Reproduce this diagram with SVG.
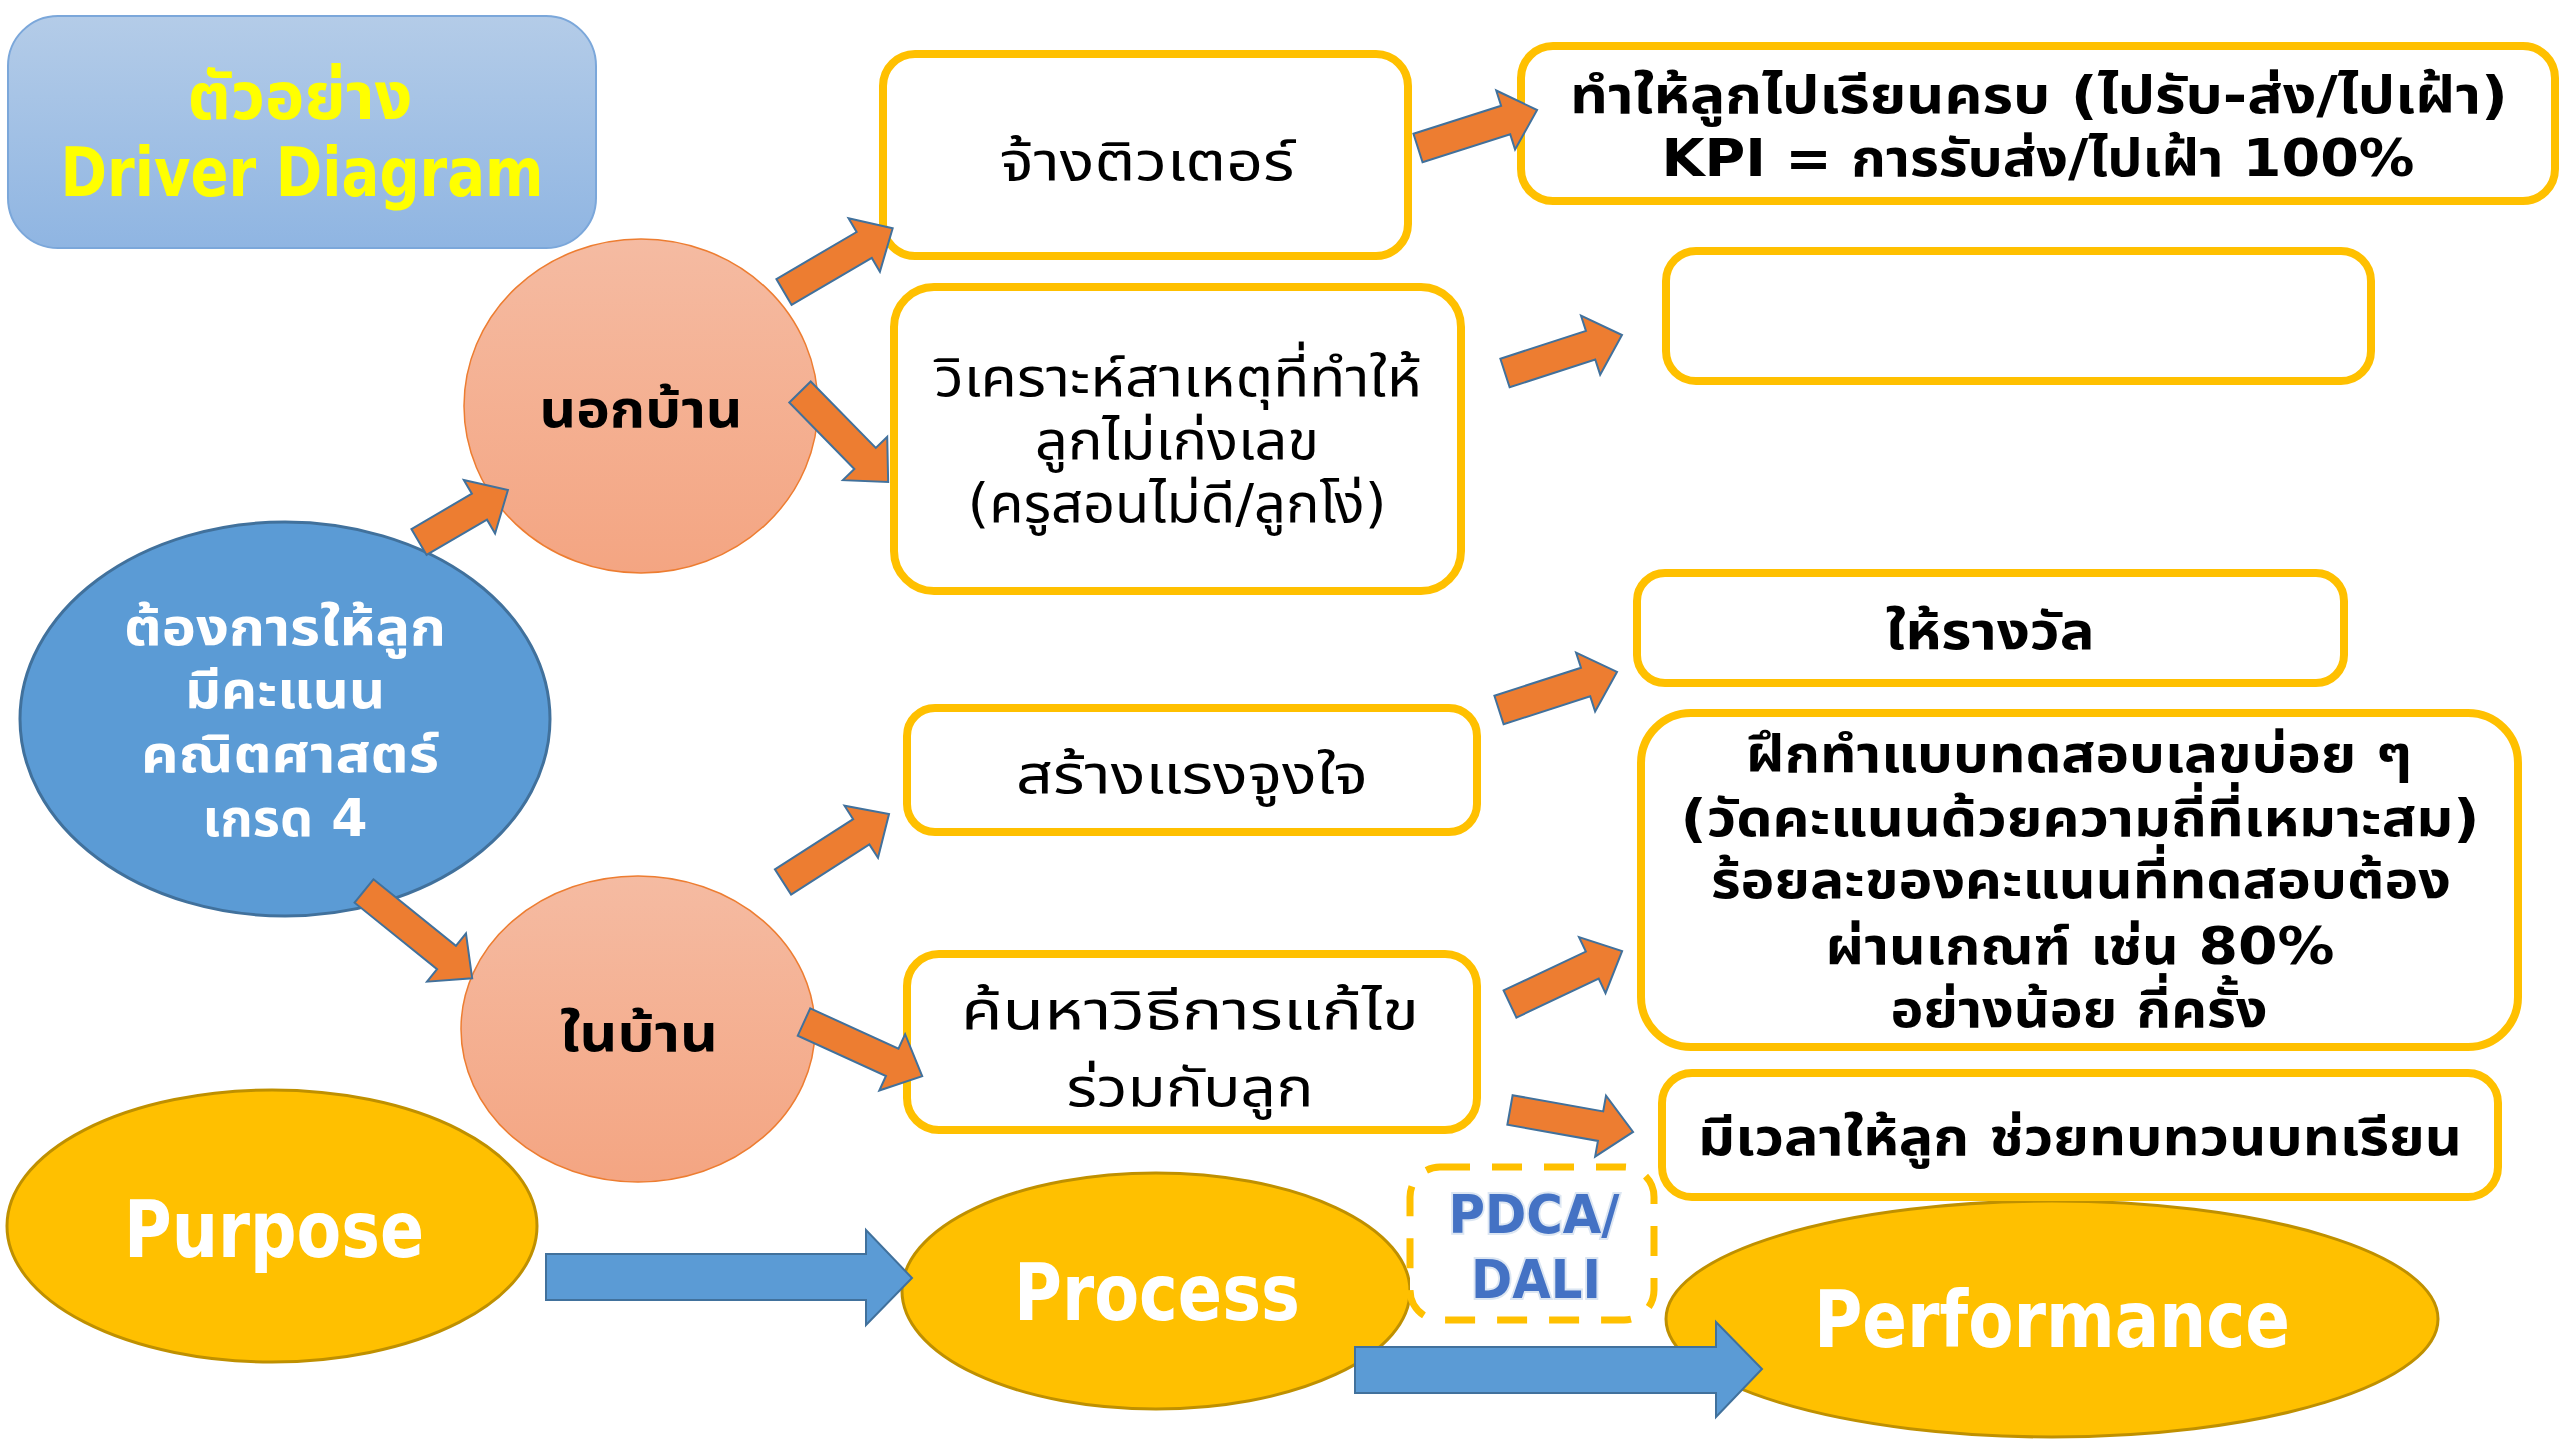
<svg xmlns="http://www.w3.org/2000/svg" width="2560" height="1440" viewBox="0 0 2560 1440">
<defs>
<linearGradient id="gTitle" x1="0" y1="0" x2="0" y2="1"><stop offset="0" stop-color="#b4cce8"/><stop offset="1" stop-color="#8fb5e2"/></linearGradient>
<linearGradient id="gSalmon" x1="0" y1="0" x2="0" y2="1"><stop offset="0" stop-color="#f5bba2"/><stop offset="1" stop-color="#f4a582"/></linearGradient>
<style>
.box{fill:#fff;stroke:#ffc000;stroke-width:8}
.dash{fill:#fff;stroke:#ffc000;stroke-width:7;stroke-dasharray:30 22}
.sal{fill:url(#gSalmon);stroke:#ed7d31;stroke-width:1.5}
.yel{fill:#ffc000;stroke:#bf9000;stroke-width:3}
.oa{fill:#ed7d31;stroke:#41719c;stroke-width:2}
.ba{fill:#5b9bd5;stroke:#41719c;stroke-width:2}
text{font-family:Tahoma,'DejaVu Sans','Noto Sans Thai','Noto Sans',sans-serif;text-anchor:middle}
.b{font-weight:bold}
.t{font-size:54px;fill:#000}
.tb{font-size:52px;font-weight:bold;fill:#000}
.w{fill:#fff;font-weight:bold}
.pd{fill:#4472c4;font-weight:bold;font-size:54px;stroke:#dce6f2;stroke-width:4;paint-order:stroke}
</style>
</defs>
<g id="title">
<rect x="8" y="16" width="588" height="232" rx="50" fill="url(#gTitle)" stroke="#7ba7da" stroke-width="2"/>
<text x="300" y="119" class="b" font-size="66" fill="#ffff00" textLength="225" lengthAdjust="spacingAndGlyphs">ตัวอย่าง</text>
<text x="302" y="196" class="b" font-size="68" fill="#ffff00" textLength="483" lengthAdjust="spacingAndGlyphs">Driver Diagram</text>
</g>
<g id="goal">
<ellipse cx="285" cy="719" rx="265" ry="197" fill="#5b9bd5" stroke="#41719c" stroke-width="3"/>
<text x="285" y="645" class="w" font-size="52" textLength="322" lengthAdjust="spacingAndGlyphs">ต้องการให้ลูก</text>
<text x="285" y="708" class="w" font-size="52" textLength="200" lengthAdjust="spacingAndGlyphs">มีคะแนน</text>
<text x="290" y="772" class="w" font-size="52" textLength="298" lengthAdjust="spacingAndGlyphs">คณิตศาสตร์</text>
<text x="285" y="836" class="w" font-size="52" textLength="165" lengthAdjust="spacingAndGlyphs">เกรด 4</text>
</g>
<g id="outside">
<ellipse cx="641" cy="406" rx="177" ry="167" class="sal"/>
<text x="641" y="427" class="tb" textLength="203" lengthAdjust="spacingAndGlyphs">นอกบ้าน</text>
</g>
<g id="inside">
<ellipse cx="638" cy="1029" rx="177" ry="153" class="sal"/>
<text x="639" y="1051" class="tb" textLength="158" lengthAdjust="spacingAndGlyphs">ในบ้าน</text>
</g>
<g id="purpose">
<ellipse cx="272" cy="1226" rx="265" ry="136" class="yel"/>
<text x="274" y="1257" class="w" font-size="78" textLength="300" lengthAdjust="spacingAndGlyphs">Purpose</text>
</g>
<g id="process">
<ellipse cx="1156" cy="1291" rx="254" ry="118" class="yel"/>
<text x="1157" y="1320" class="w" font-size="78" textLength="286" lengthAdjust="spacingAndGlyphs">Process</text>
</g>
<g id="performance">
<ellipse cx="2052" cy="1319" rx="386" ry="118" class="yel"/>
<text x="2052" y="1347" class="w" font-size="78" textLength="476" lengthAdjust="spacingAndGlyphs">Performance</text>
</g>
<g id="tutor">
<rect x="883" y="54" width="525" height="202" rx="32" class="box"/>
<text x="1147" y="180" class="t" textLength="295" lengthAdjust="spacingAndGlyphs">จ้างติวเตอร์</text>
</g>
<g id="kpi">
<rect x="1521" y="46" width="1034" height="155" rx="32" class="box"/>
<text x="2039" y="113" class="tb" textLength="938" lengthAdjust="spacingAndGlyphs">ทำให้ลูกไปเรียนครบ (ไปรับ-ส่ง/ไปเฝ้า)</text>
<text x="2038" y="176" class="tb" textLength="753" lengthAdjust="spacingAndGlyphs">KPI = การรับส่ง/ไปเฝ้า 100%</text>
</g>
<g id="analyze">
<rect x="894" y="287" width="567" height="304" rx="40" class="box"/>
<text x="1178" y="396" class="t" textLength="487" lengthAdjust="spacingAndGlyphs">วิเคราะห์สาเหตุที่ทำให้</text>
<text x="1177" y="459" class="t" textLength="284" lengthAdjust="spacingAndGlyphs">ลูกไม่เก่งเลข</text>
<text x="1177" y="522" class="t" textLength="419" lengthAdjust="spacingAndGlyphs">(ครูสอนไม่ดี/ลูกโง่)</text>
</g>
<g id="empty">
<rect x="1666" y="251" width="705" height="130" rx="30" class="box"/>
</g>
<g id="reward">
<rect x="1637" y="573" width="707" height="110" rx="28" class="box"/>
<text x="1990" y="649" class="tb" textLength="209" lengthAdjust="spacingAndGlyphs">ให้รางวัล</text>
</g>
<g id="motivate">
<rect x="907" y="708" width="570" height="124" rx="28" class="box"/>
<text x="1192" y="793" class="t" textLength="352" lengthAdjust="spacingAndGlyphs">สร้างแรงจูงใจ</text>
</g>
<g id="practice">
<rect x="1641" y="713" width="877" height="334" rx="50" class="box"/>
<text x="2079" y="772" class="tb" textLength="666" lengthAdjust="spacingAndGlyphs">ฝึกทำแบบทดสอบเลขบ่อย ๆ</text>
<text x="2080" y="836" class="tb" textLength="799" lengthAdjust="spacingAndGlyphs">(วัดคะแนนด้วยความถี่ที่เหมาะสม)</text>
<text x="2081" y="898" class="tb" textLength="740" lengthAdjust="spacingAndGlyphs">ร้อยละของคะแนนที่ทดสอบต้อง</text>
<text x="2080" y="964" class="tb" textLength="509" lengthAdjust="spacingAndGlyphs">ผ่านเกณฑ์ เช่น 80%</text>
<text x="2079" y="1027" class="tb" textLength="377" lengthAdjust="spacingAndGlyphs">อย่างน้อย กี่ครั้ง</text>
</g>
<g id="solve">
<rect x="907" y="954" width="570" height="176" rx="32" class="box"/>
<text x="1190" y="1029" class="t" textLength="458" lengthAdjust="spacingAndGlyphs">ค้นหาวิธีการแก้ไข</text>
<text x="1190" y="1106" class="t" textLength="247" lengthAdjust="spacingAndGlyphs">ร่วมกับลูก</text>
</g>
<g id="review">
<rect x="1662" y="1073" width="836" height="124" rx="30" class="box"/>
<text x="2080" y="1155" class="tb" textLength="764" lengthAdjust="spacingAndGlyphs">มีเวลาให้ลูก ช่วยทบทวนบทเรียน</text>
</g>
<g id="pdca">
<rect x="1410" y="1167" width="244" height="153" rx="30" class="dash"/>
<text x="1534" y="1233" class="pd" textLength="171" lengthAdjust="spacingAndGlyphs">PDCA/</text>
<text x="1536" y="1298" class="pd" textLength="130" lengthAdjust="spacingAndGlyphs">DALI</text>
</g>
<g id="connectors">
<polygon class="oa" points="0,-15 70,-15 70,-31 103,0 70,31 70,15 0,15" transform="translate(419,542) rotate(-30.3)"/>
<polygon class="oa" points="0,-15 93,-15 93,-31 126,0 93,31 93,15 0,15" transform="translate(784,292) rotate(-30.4)"/>
<polygon class="oa" points="0,-15 93,-15 93,-31 126,0 93,31 93,15 0,15" transform="translate(800,392) rotate(45.6)"/>
<polygon class="oa" points="0,-15 106,-15 106,-31 139,0 106,31 106,15 0,15" transform="translate(364,891) rotate(38.9)"/>
<polygon class="oa" points="0,-15 93,-15 93,-31 126,0 93,31 93,15 0,15" transform="translate(783,882) rotate(-32.7)"/>
<polygon class="oa" points="0,-15 97,-15 97,-31 130,0 97,31 97,15 0,15" transform="translate(804,1022) rotate(24.6)"/>
<polygon class="oa" points="0,-15 92,-15 92,-31 125,0 92,31 92,15 0,15" transform="translate(1418,148) rotate(-17.7)"/>
<polygon class="oa" points="0,-15 90,-15 90,-31 123,0 90,31 90,15 0,15" transform="translate(1505,373) rotate(-18)"/>
<polygon class="oa" points="0,-15 91,-15 91,-31 124,0 91,31 91,15 0,15" transform="translate(1499,710) rotate(-17.9)"/>
<polygon class="oa" points="0,-15 91,-15 91,-31 124,0 91,31 91,15 0,15" transform="translate(1510,1004) rotate(-25.3)"/>
<polygon class="oa" points="0,-15 92,-15 92,-31 125,0 92,31 92,15 0,15" transform="translate(1510,1110) rotate(10.1)"/>
<polygon class="ba" points="546,1254 866,1254 866,1230 912,1278 866,1325 866,1300 546,1300"/>
<polygon class="ba" points="1355,1347 1716,1347 1716,1322 1762,1369 1716,1417 1716,1393 1355,1393"/>
</g>
</svg>
